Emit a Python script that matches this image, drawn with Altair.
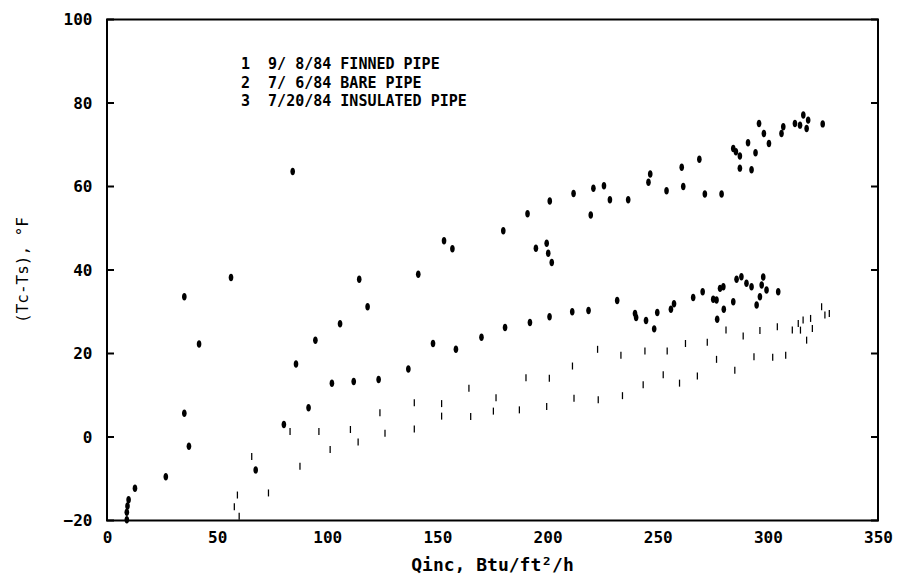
import altair as alt
import pandas as pd

# ---- data ----
# series 1: 9/ 8/84 finned pipe (thin tick symbols)
s1_x = [57.8, 59.2, 60.0, 65.7, 73.3, 83.1, 87.6, 96.2, 101.3, 110.5, 114.0, 123.9, 126.2,
        139.5, 139.5, 151.9, 151.9, 164.3, 165.1, 176.6, 175.4, 187.2, 190.2, 199.6, 200.8,
        211.3, 212.0, 222.7, 223.0, 233.3, 234.0, 243.4, 244.2, 252.5, 254.3, 259.9, 262.6,
        268.0, 272.5, 276.7, 281.0, 285.0, 288.8, 293.7, 296.4, 302.2, 304.3, 308.1, 311.1,
        313.8, 314.8, 316.0, 317.6, 319.4, 320.2, 324.4, 325.9, 327.9]
s1_y = [-16.7, -13.9, -19.0, -4.7, -13.4, 1.3, -7.0, 1.3, -3.0, 1.8, -1.2, 5.8, 0.9,
        8.2, 1.9, 8.0, 5.0, 11.7, 4.9, 9.4, 6.2, 6.5, 14.2, 7.3, 14.1,
        17.0, 9.3, 21.0, 8.9, 19.6, 9.9, 12.5, 20.6, 14.9, 20.6, 12.9, 22.4,
        14.6, 22.7, 18.6, 25.6, 16.0, 24.2, 19.2, 25.5, 19.1, 26.4, 19.6, 25.6,
        27.2, 25.6, 28.0, 23.2, 28.4, 26.0, 31.2, 29.2, 29.6]

# series 2: 7/ 6/84 bare pipe (upper band of blobs)
s2_x = [9.0, 9.0, 9.3, 9.8, 12.7, 26.7, 35.1, 37.2, 35.1, 41.8, 56.3, 84.3, 85.8, 94.6,
        105.8, 114.5, 118.3, 141.3, 153.0, 156.8, 179.9, 190.9, 194.7, 199.6, 200.3, 201.9,
        201.0, 211.8, 219.6, 220.8, 225.6, 228.3, 236.6, 245.8, 246.6, 254.0, 260.9, 261.6,
        268.9, 271.4, 279.0, 284.3, 285.5, 287.3, 287.3, 292.6, 291.0, 294.4, 296.0, 298.2,
        300.5, 306.2, 307.0, 312.3, 314.6, 316.1, 318.3, 317.6, 324.9]
s2_y = [-19.8, -18.0, -16.5, -15.0, -12.3, -9.5, 5.7, -2.2, 33.6, 22.3, 38.2, 63.6, 17.5, 23.2,
        27.1, 37.8, 31.2, 39.0, 47.0, 45.1, 49.4, 53.5, 45.2, 46.4, 44.0, 41.8,
        56.5, 58.3, 53.2, 59.6, 60.2, 56.8, 56.8, 61.0, 63.0, 59.0, 64.6, 60.0,
        66.5, 58.2, 58.2, 69.1, 68.3, 67.3, 64.4, 64.0, 70.5, 68.1, 75.1, 72.7,
        70.3, 72.7, 74.3, 75.1, 74.7, 77.1, 75.9, 73.9, 75.0]

# series 3: 7/20/84 insulated pipe (middle band of blobs)
s3_x = [67.5, 80.3, 91.5, 102.1, 112.0, 123.3, 136.8, 148.0, 158.4, 170.0, 180.7, 192.0,
        200.9, 211.2, 218.6, 231.6, 239.7, 240.2, 244.7, 248.4, 249.8, 256.0, 257.4, 266.1,
        270.4, 275.2, 276.7, 277.0, 278.3, 279.8, 280.0, 284.3, 285.8, 288.0, 290.3, 292.6,
        294.9, 296.4, 297.2, 297.9, 299.4, 304.7]
s3_y = [-7.9, 3.0, 7.0, 12.9, 13.3, 13.8, 16.3, 22.4, 21.0, 23.9, 26.2, 27.4,
        28.8, 30.0, 30.3, 32.7, 29.6, 28.6, 27.9, 25.9, 29.8, 30.6, 31.9, 33.4,
        34.8, 33.0, 32.8, 28.2, 35.6, 36.0, 30.6, 32.4, 37.8, 38.4, 36.8, 36.0,
        31.6, 33.6, 36.4, 38.3, 35.2, 34.8]

x_ticks = [0, 50, 100, 150, 200, 250, 300, 350]
y_ticks = [-20, 0, 20, 40, 60, 80, 100]

legend_nums = ["1", "2", "3"]
legend_dates = ["9/ 8/84", "7/ 6/84", "7/20/84"]
legend_names = ["FINNED PIPE", "BARE PIPE", "INSULATED PIPE"]

x_title = "Qinc, Btu/ft\u00b2/h"
y_title = "(Tc-Ts), \u00b0F"

# ---- chart ----
W, H = 771, 501
MONO = "DejaVu Sans Mono"
NB = "\u00a0"

df1 = pd.DataFrame({"x": s1_x, "y": s1_y})
df2 = pd.DataFrame({"x": s2_x, "y": s2_y})
df3 = pd.DataFrame({"x": s3_x, "y": s3_y})
dft = pd.DataFrame({"y": y_ticks})

xs = alt.Scale(domain=[0, 350], nice=False, zero=False)
ys = alt.Scale(domain=[-20, 100], nice=False, zero=False)

xaxis = alt.Axis(values=x_ticks, format="d", grid=False, domain=False, ticks=False,
                 labelFont=MONO, labelFontWeight="bold", labelFontSize=16,
                 labelColor="black", labelPadding=9, labelFlush=False,
                 title=x_title, titleFont=MONO, titleFontSize=18, titleFontWeight="bold",
                 titleColor="black", titleX=385, titleY=45,
                 titleAlign="center", titleBaseline="middle")
yaxis = alt.Axis(values=y_ticks, format="d", grid=False, domain=False, ticks=False,
                 labelFont=MONO, labelFontWeight="bold", labelFontSize=16,
                 labelColor="black", labelPadding=15, labelFlush=False,
                 title=y_title, titleFont=MONO, titleFontSize=16, titleFontWeight="normal",
                 titleColor="black", titleX=-85, titleY=250, titleAngle=270,
                 titleAlign="center", titleBaseline="middle")

X = alt.X("x:Q", scale=xs, axis=xaxis)
Y = alt.Y("y:Q", scale=ys, axis=yaxis)

ellipse = "M0,-1 A0.62,1 0 1,1 0,1 A0.62,1 0 1,1 0,-1 Z"
tickpath = "M-0.18,-1 L0.18,-1 L0.18,1 L-0.18,1 Z"

p1 = alt.Chart(df1).mark_point(shape=tickpath, filled=True, color="black",
                               opacity=1, size=49).encode(x=X, y=Y)
p2 = alt.Chart(df2).mark_point(shape=ellipse, filled=True, color="black",
                               opacity=1, size=56).encode(x=X, y=Y)
p3 = alt.Chart(df3).mark_point(shape=ellipse, filled=True, color="black",
                               opacity=1, size=56).encode(x=X, y=Y)

tl = alt.Chart(dft).mark_rule(color="black", strokeWidth=2).encode(
    y=Y, x=alt.value(0), x2=alt.value(7))
tr = alt.Chart(dft).mark_rule(color="black", strokeWidth=2).encode(
    y=Y, x=alt.value(W - 7), x2=alt.value(W))

legend_layers = []
for i, (n, d, t) in enumerate(zip(legend_nums, legend_dates, legend_names)):
    line = f"{n}{NB}{NB}{d.replace(' ', NB)}{NB}{t}"
    legend_layers.append(
        alt.Chart(pd.DataFrame({"a": [0]})).mark_text(
            text=line, font=MONO, fontWeight="bold", fontSize=15,
            align="left", baseline="middle", color="black").encode(
            x=alt.value(134), y=alt.value(44.5 + i * 18.5)))

chart = alt.layer(tl, tr, p1, p2, p3, *legend_layers).properties(
    width=W, height=H,
    autosize=alt.AutoSizeParams(type="none"),
    padding={"left": 107, "top": 19.5, "right": 25, "bottom": 54.5},
    background="white",
).configure_view(stroke="black", strokeWidth=2)

chart.save("out.html", embed_options={"renderer": "svg", "actions": False})
